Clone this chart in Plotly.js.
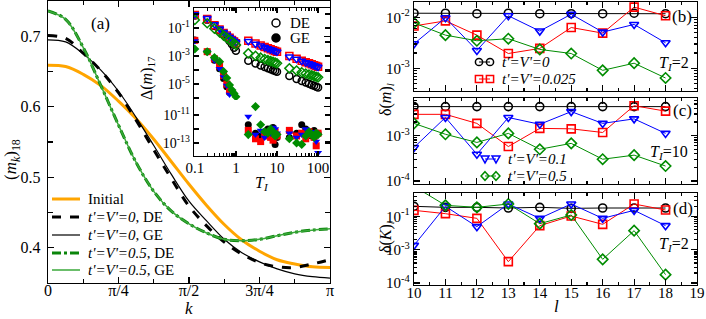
<!DOCTYPE html>
<html><head><meta charset="utf-8">
<script src="https://cdn.plot.ly/plotly-3.0.1.min.js"></script>
<style>body{margin:0;background:#fff}#plot{width:706px;height:319px}</style>
</head><body><div id="plot"></div>
<script>
// ---------- Panel (a): momentum distribution ----------
const kVals = [0, 0.1963, 0.3927, 0.5890, 0.7854, 0.9817, 1.1781, 1.3744, 1.5708, 1.7671, 1.9635, 2.1598, 2.3562, 2.5525, 2.7489, 2.9452, 3.1416];
const mkInitial = [0.659,0.657,0.646,0.630,0.608,0.583,0.554,0.522,0.490,0.460,0.433,0.411,0.395,0.383,0.377,0.373,0.372];
const mkDE0     = [0.701,0.697,0.676,0.651,0.620,0.581,0.539,0.498,0.459,0.431,0.408,0.391,0.379,0.373,0.372,0.377,0.383];
const mkGE0     = [0.695,0.692,0.675,0.652,0.622,0.585,0.545,0.504,0.466,0.438,0.412,0.393,0.380,0.370,0.363,0.359,0.357];
const mkDE05    = [0.736,0.724,0.684,0.630,0.574,0.521,0.480,0.452,0.434,0.421,0.412,0.410,0.412,0.417,0.422,0.425,0.427];
const mkGE05    = [0.736,0.724,0.684,0.630,0.574,0.521,0.480,0.452,0.434,0.421,0.412,0.410,0.412,0.417,0.422,0.425,0.427];
const legendA = ['Initial', "<i>t'=V'=0</i>, DE", "<i>t'=V'=0</i>, GE", "<i>t'=V'=0.5</i>, DE", "<i>t'=V'=0.5</i>, GE"];

// ---------- Inset: Delta(m)_17 vs T_I (log10 values) ----------
const tVals = [0.1,0.2,0.3,0.4,0.5,0.6,0.7,0.8,0.9,1, 2,3,4,5,6,7,8,9,10, 20,30,40,50,60,70,80,90,100];
const deBlackLog = [-0.10,-0.40,-0.85,-1.18,-1.45,-1.70,-1.93,-2.15,-2.40,-2.62, -3.33,-3.53,-3.67,-3.78,-3.87,-3.94,-4.01,-4.07,-4.12, -4.43,-4.64,-4.78,-4.89,-4.98,-5.06,-5.13,-5.19,-5.24];
const deRedLog   = [-0.07,-0.36,-0.80,-1.11,-1.35,-1.54,-1.70,-1.85,-1.97,-2.09, -1.91,-2.11,-2.25,-2.36,-2.45,-2.52,-2.58,-2.64,-2.69, -3.00,-3.19,-3.33,-3.44,-3.52,-3.59,-3.66,-3.71,-3.76];
const deBlueLog  = [-0.03,-0.30,-0.74,-1.05,-1.30,-1.49,-1.65,-1.80,-1.92,-2.03, -1.95,-2.14,-2.27,-2.37,-2.46,-2.53,-2.59,-2.65,-2.70, -3.05,-3.22,-3.35,-3.46,-3.54,-3.61,-3.68,-3.73,-3.78];
const deGreenLog = [-0.42,-0.66,-1.05,-1.32,-1.54,-1.71,-1.86,-1.99,-2.10,-2.21, -2.81,-2.99,-3.12,-3.22,-3.30,-3.36,-3.42,-3.47,-3.52, -3.88,-4.04,-4.16,-4.25,-4.32,-4.38,-4.43,-4.48,-4.52];
const geBlackLog = [-1.86,-2.69,-3.30,-3.90,-4.60,-5.20,-5.60,null,null,null, -11.7,-12.3,-12.5,-12.2,-12.0,-12.1,-11.9,-13.1,-12.6, -12.6,-12.3,-11.7,-12.0,-12.2,-12.5,-12.1,-12.4,-12.3];
const geRedLog   = [-1.88,-2.69,-3.20,-3.70,-4.40,-5.00,-5.50,null,null,null, -12.1,-12.7,-12.9,-12.5,-12.3,-12.6,-12.8,-12.2,-12.5, -12.1,-12.5,-12.3,-12.7,-12.2,-12.4,-12.6,-13.2,-12.3];
const geBlueLog  = [-1.92,-2.72,-3.30,-3.90,-4.50,-5.10,-5.75,null,null,null, -11.1,-12.4,-12.1,-12.6,-12.2,-12.3,-11.9,-12.0,-12.3, -12.3,-12.6,-12.4,-12.0,-12.3,-12.2,-12.5,-12.9,-13.7];
const geGreenLog = [-2.50,-2.69,-3.10,-3.40,-4.10,-4.57,-5.07,-5.43,-5.67,-5.90, -12.4,-10.4,-11.7,-12.2,-12.3,-12.0,-12.2,-12.5,-12.4, -12.7,-13.0,-13.1,-12.5,-12.2,-12.4,-12.6,-12.3,-12.4];

// ---------- Panels (b),(c),(d): vs l (log10 values) ----------
const lVals = [10,11,12,13,14,15,16,17,18];
const bBlackLog = [-1.92,-1.92,-1.93,-1.92,-1.93,-1.93,-1.93,-1.92,-1.93];
const bRedLog   = [-2.17,-2.07,-2.35,-2.71,-2.61,-2.20,-2.31,-1.80,-1.97];
const bBlueLog  = [-2.52,-2.01,-2.65,-1.97,-2.27,-1.94,-2.29,-2.14,-2.50];
const bGreenLog = [-2.11,-2.35,-2.46,-2.42,-2.63,-2.71,-3.04,-2.90,-3.19];
const cBlackLog = [-2.36,-2.36,-2.36,-2.36,-2.36,-2.36,-2.36,-2.36,-2.36];
const cRedLog   = [-2.53,-2.53,-2.73,-3.24,-2.84,-2.85,-2.93,-2.34,-2.46];
const cBlueLog  = [-3.26,-2.60,-3.41,-2.60,-2.75,-2.47,-2.73,-2.63,-2.95];
const cGreenLog = [-2.73,-2.97,-3.15,-2.95,-3.30,-3.17,-3.52,-3.43,-3.67];
const dBlackLog = [-1.70,-1.73,-1.73,-1.75,-1.73,-1.76,-1.75,-1.75,-1.75];
const dRedLog   = [-1.82,-1.92,-2.06,-3.36,-2.28,-1.99,-2.24,-1.63,-1.81];
const dBlueLog  = [-2.87,-1.70,-2.31,-1.63,-2.06,-1.63,-2.06,-1.82,-2.28];
const dGreenLog = [-1.10,-1.67,-1.73,-1.63,-2.22,-1.96,-3.29,-2.43,-3.75];
const seriesNames = {black:"<i>t'=V'=0</i>", red:"<i>t'=V'=0.025</i>", blue:"<i>t'=V'=0.1</i>", green:"<i>t'=V'=0.5</i>"};

const piTickText = ['0','π/4','π/2','3π/4','π'];
const lTickVals = [10,11,12,13,14,15,16,17,18,19];

// ---------- helpers ----------
const F = 'Liberation Serif, Times New Roman, serif';
const W = 706, H = 319;
const px = v => v / W, py = v => 1 - v / H;
const p10 = a => a.map(v => v === null ? null : Math.pow(10, v));
const PI = Math.PI;
const COL = {black:'#000000', red:'#ff0000', blue:'#0000ff', green:'#008c00'};
const SYM = {black:'circle', red:'square', blue:'triangle-down', green:'diamond'};
const styleA = [
  {color:'#ffa500', width:3},
  {color:'#000', width:3, dash:'dash'},
  {color:'#000', width:1.2},
  {color:'#0a850a', width:3, dash:'dashdot'},
  {color:'#3aa83a', width:1.5}
];

const traces = [];
[mkInitial, mkDE0, mkGE0, mkDE05, mkGE05].forEach((ys, i) => {
  traces.push({x:kVals, y:ys, name:legendA[i], mode:'lines', line:Object.assign({shape:'spline'}, styleA[i]),
    xaxis:'x', yaxis:'y', showlegend:false});
});

const insetSets = [
  ['black', deBlackLog, geBlackLog], ['red', deRedLog, geRedLog],
  ['blue', deBlueLog, geBlueLog], ['green', deGreenLog, geGreenLog]
];
insetSets.forEach(([c, de]) => {
  [['x3','y2'],['x2','y3']].forEach(([xa, ya]) => {
    traces.push({x:tVals, y:p10(de), mode:'markers', xaxis:xa, yaxis:ya, name:'DE', showlegend:false,
      marker:{symbol:SYM[c]+'-open', size:7, color:COL[c], line:{width:1.5, color:COL[c]}}});
  });
});
insetSets.forEach(([c, de, ge]) => {
  [['x3','y2'],['x2','y3']].forEach(([xa, ya]) => {
    traces.push({x:tVals, y:p10(ge), mode:'markers', xaxis:xa, yaxis:ya, name:'GE', showlegend:false,
      marker:{symbol:SYM[c], size:7, color:COL[c], line:{width:0}}});
  });
});

const panels = [
  ['x4','y4', {black:bBlackLog, red:bRedLog, blue:bBlueLog, green:bGreenLog}],
  ['x5','y5', {black:cBlackLog, red:cRedLog, blue:cBlueLog, green:cGreenLog}],
  ['x6','y6', {black:dBlackLog, red:dRedLog, blue:dBlueLog, green:dGreenLog}]
];
panels.forEach(([xa, ya, set]) => {
  ['black','red','blue','green'].forEach(c => {
    traces.push({x:lVals, y:p10(set[c]), mode:'lines+markers', xaxis:xa, yaxis:ya, name:seriesNames[c], showlegend:false,
      line:{color:COL[c], width:1},
      marker:{symbol:SYM[c]+'-open', size:8, color:COL[c], line:{width:1.6, color:COL[c]}}});
  });
});

// ---------- axes ----------
const baseAx = {showline:true, linewidth:1.3, linecolor:'#000', ticks:'inside', tickcolor:'#000', ticklen:6, tickwidth:1.2,
  showgrid:false, zeroline:false, mirror:'ticks', tickfont:{family:F, size:15, color:'#000'}};
const ax = o => Object.assign({}, baseAx, o);
const logTicks = (lo, hi, labelled) => {
  const v = [], t = [];
  for (let e = hi; e >= lo; e--) { v.push(Math.pow(10, e)); t.push(labelled.includes(e) ? '10<sup>' + e + '</sup>' : ''); }
  return {tickvals:v, ticktext:t};
};
const xr = [px(414), px(697)];
const minorLog = {ticks:'inside', ticklen:3, dtick:'D1', tickcolor:'#000'};
const minorL = {dtick:0.5, ticks:'inside', ticklen:3, tickcolor:'#000'};

const layout = {
  width:W, height:H, margin:{l:0,r:0,t:0,b:0}, paper_bgcolor:'#fff', plot_bgcolor:'rgba(0,0,0,0)',
  font:{family:F, size:15, color:'#000'}, showlegend:false,
  xaxis: ax({domain:[px(48), px(330)], range:[0, PI], anchor:'y', tickvals:[0, PI/4, PI/2, 3*PI/4, PI], ticktext:piTickText,
    tickfont:{family:F, size:16}, ticklabelstandoff:-8, minor:{dtick:PI/8, tick0:0, ticks:'inside', ticklen:4, tickcolor:'#000'}}),
  yaxis: ax({domain:[py(283), py(1)], range:[0.35, 0.75], anchor:'x', tickvals:[0.4,0.5,0.6,0.7], ticktext:['0.4','0.5','0.6','0.7'],
    tickfont:{family:F, size:16}, ticklabelstandoff:3, minor:{dtick:0.05, tick0:0, ticks:'inside', ticklen:5, tickcolor:'#000'}}),
  xaxis2: ax({domain:[px(194), px(330)], type:'log', range:[-1.02, 2.29], anchor:'y3', mirror:false,
    tickvals:[0.1,1,10,100], ticktext:['0.1','1','10','100'], tickfont:{family:F, size:15}, ticklen:5, ticklabelstandoff:-2, minor:minorLog}),
  xaxis3: ax({domain:[px(194), px(330)], type:'log', range:[-1.02, 2.29], anchor:'y2', side:'top', mirror:false,
    tickvals:[0.1,1,10,100], showticklabels:false, ticklen:5, minor:minorLog}),
  yaxis2: ax(Object.assign({domain:[py(100), py(8)], type:'log', range:[-6.14, 0.43], anchor:'x3', ticklen:5,
    tickfont:{family:F, size:14}}, logTicks(-6, 0, [-1,-3,-5]))),
  yaxis3: ax(Object.assign({domain:[py(156), py(100)], type:'log', range:[-13.93, -9.93], anchor:'x2', ticklen:5,
    tickfont:{family:F, size:14}}, logTicks(-13, -10, [-11,-13]))),
  xaxis4: ax({domain:xr, range:[10,19], anchor:'y4', tickvals:lTickVals, showticklabels:false, minor:minorL}),
  yaxis4: ax({domain:[py(91), py(2)], type:'log', range:[-3.445, -1.70], anchor:'x4', tickvals:[1e-2,1e-3], ticktext:['10<sup>-2</sup>','10<sup>-3</sup>'], minor:minorLog}),
  xaxis5: ax({domain:xr, range:[10,19], anchor:'y5', tickvals:lTickVals, showticklabels:false, minor:minorL}),
  yaxis5: ax({domain:[py(184), py(98)], type:'log', range:[-4.066, -2.17], anchor:'x5', tickvals:[1e-3,1e-4], ticktext:['10<sup>-3</sup>','10<sup>-4</sup>'], minor:minorLog}),
  xaxis6: ax({domain:xr, range:[10,19], anchor:'y6', tickvals:lTickVals, ticktext:lTickVals.map(String), ticklabelstandoff:-6, minor:minorL}),
  yaxis6: ax({domain:[py(285), py(193)], type:'log', range:[-4.06, -1.30], anchor:'x6', tickvals:[1e-2,1e-3,1e-4], ticktext:['10<sup>-1</sup>','10<sup>-3</sup>','10<sup>-4</sup>'], minor:minorLog}),
  annotations: [], shapes: []
};
const ann = (x, y, text, o) => layout.annotations.push(Object.assign({xref:'paper', yref:'paper', x:px(x), y:py(y), text:text, showarrow:false,
  font:{family:F, size:16, color:'#000'}, xanchor:'center', yanchor:'middle'}, o || {}));
const shp = o => layout.shapes.push(Object.assign({xref:'paper', yref:'paper', layer:'above'}, o));
const key = (sym, cx, cy, r, color, filled) => {
  const base = {line:{color:color, width:1.5}, fillcolor: filled ? color : 'rgba(0,0,0,0)'};
  if (sym === 'circle' || sym === 'square') {
    shp(Object.assign({type: sym === 'circle' ? 'circle' : 'rect', x0:px(cx-r), x1:px(cx+r), y0:py(cy+r), y1:py(cy-r)}, base));
  } else if (sym === 'triangle-down') {
    shp(Object.assign({type:'path', path:`M ${px(cx-r*1.1)},${py(cy-r*0.8)} L ${px(cx+r*1.1)},${py(cy-r*0.8)} L ${px(cx)},${py(cy+r*1.1)} Z`}, base));
  } else {
    shp(Object.assign({type:'path', path:`M ${px(cx)},${py(cy-r*1.2)} L ${px(cx+r*1.1)},${py(cy)} L ${px(cx)},${py(cy+r*1.2)} L ${px(cx-r*1.1)},${py(cy)} Z`}, base));
  }
};

// legend (a)
const legAy = [199, 217, 235, 253, 270];
legendA.forEach((t, i) => {
  shp({type:'line', x0:px(52), x1:px(80), y0:py(legAy[i]), y1:py(legAy[i]), line:styleA[i]});
  ann(86, legAy[i], t, {xanchor:'left', font:{family:F, size:15}});
});
// inset legend
key('circle', 276, 23, 4, '#000', false); ann(288, 23, 'DE', {xanchor:'left', font:{family:F, size:15}});
key('circle', 276, 38, 4, '#000', true);  ann(288, 38, 'GE', {xanchor:'left', font:{family:F, size:15}});
// right legends
const rightLeg = [['black', 62], ['red', 79], ['blue', 159], ['green', 176]];
rightLeg.forEach(([c, y]) => {
  const x1 = (c === 'black' || c === 'red') ? 479 : 485, x2 = x1 + 11;
  shp({type:'line', x0:px(x1), x1:px(x2), y0:py(y), y1:py(y), line:{color:COL[c], width:1}});
  key(SYM[c], x1, y, 3.6, COL[c], false);
  key(SYM[c], x2, y, 3.6, COL[c], false);
  ann(x2 + 10, y, seriesNames[c], {xanchor:'left', font:{family:F, size:15}});
});

ann(100, 23, '(a)', {font:{family:F, size:17}});
ann(682, 16, '(b)', {font:{family:F, size:17}});
ann(682, 110, '(c)', {font:{family:F, size:17}});
ann(683, 208, '(d)', {font:{family:F, size:17}});
ann(691, 64, '<i>T<sub>I</sub></i>=2', {xanchor:'right'});
ann(690, 153, '<i>T<sub>I</sub></i>=10', {xanchor:'right'});
ann(691, 244, '<i>T<sub>I</sub></i>=2', {xanchor:'right'});
ann(12, 160, '(<i>m<sub>k</sub></i>)<sub>18</sub>', {textangle:-90, font:{family:F, size:17}});
ann(189, 308, '<i>k</i>', {font:{family:F, size:17}});
ann(148, 78, 'Δ(<i>m</i>)<sub>17</sub>', {textangle:-90, font:{family:F, size:16}});
ann(262, 183, '<i>T<sub>I</sub></i>', {font:{family:F, size:16}});
ann(386, 100, 'δ(<i>m</i>)<sub><i>l</i></sub>', {textangle:-90, font:{family:F, size:16}});
ann(386, 237, 'δ(<i>K</i>)<sub><i>l</i></sub>', {textangle:-90, font:{family:F, size:16}});
ann(556, 306, '<i>l</i>', {font:{family:F, size:17}});

Plotly.newPlot('plot', traces, layout, {displayModeBar:false, staticPlot:true});
</script></body></html>
